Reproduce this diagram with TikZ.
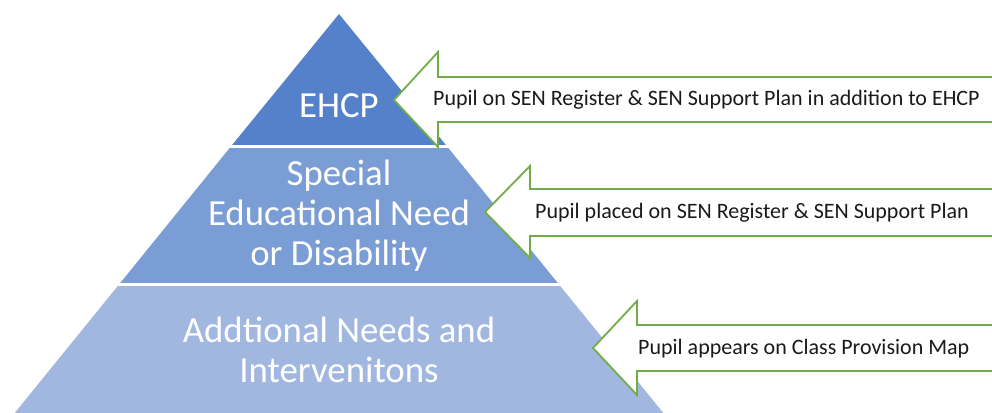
\documentclass[tikz,border=0pt]{standalone}
\usepackage{fontspec}
\setmainfont{Carlito}
\definecolor{tierA}{HTML}{5581CB}
\definecolor{tierB}{HTML}{7B9DD5}
\definecolor{tierC}{HTML}{A1B7E0}
\definecolor{arrowgreen}{HTML}{70AD47}
\definecolor{txt}{HTML}{1A1A1A}
\begin{document}
\begin{tikzpicture}[x=1pt,y=1pt,
  tierlabel/.style={text=white, font=\fontsize{36.8}{40}\selectfont, align=center, inner sep=0pt},
  arrowshape/.style={draw=arrowgreen, line width=1.8pt, fill=white, line join=miter},
  arrowlabel/.style={text=txt, font=\fontsize{22}{26}\selectfont, anchor=west, inner sep=0pt},
  gap/.style={draw=white, line width=3pt}]
\useasboundingbox (0,0) rectangle (992,412);
% pyramid tiers (y measured from bottom: 412 - image y)
\fill[tierA] (339,398) -- (447.5,265) -- (230.5,265) -- cycle;
\fill[tierB] (230.5,265) -- (447.5,265) -- (559,127.5) -- (119,127.5) -- cycle;
\fill[tierC] (119,127.5) -- (559,127.5) -- (669,-8) -- (9,-8) -- cycle;
\draw[gap] (225,265) -- (455,265);
\draw[gap] (110,127.5) -- (570,127.5);
% labels
\node[tierlabel] (ehcp) at (339,306) {EHCP};
\node[tierlabel] (send) at (339,196) {Special\\Educational Need\\or Disability};
\node[tierlabel] (addl) at (339,62) {Addtional Needs and\\Intervenitons};
% arrows
\draw[arrowshape] (1000,335) -- (438,335) -- (438,360) -- (394,312) -- (438,265) -- (438,290) -- (1000,290);
\draw[arrowshape] (1000,223) -- (530,223) -- (530,246) -- (485,200) -- (530,154) -- (530,176) -- (1000,176);
\draw[arrowshape] (1000,87) -- (637,87) -- (637,111) -- (593,64) -- (637,17) -- (637,41) -- (1000,41);
\node[arrowlabel] (lab1) at (433,312) {Pupil on SEN Register \& SEN Support Plan in addition to EHCP};
\node[arrowlabel] (lab2) at (535,199) {Pupil placed on SEN Register \& SEN Support Plan};
\node[arrowlabel] (lab3) at (638,63) {Pupil appears on Class Provision Map};
\end{tikzpicture}
\end{document}
